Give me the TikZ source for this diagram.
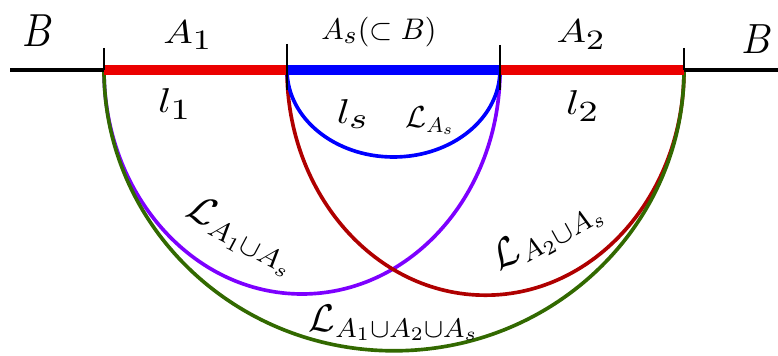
\RequirePackage{fix-cm}
\documentclass[tikz,border=0pt]{standalone}
\DeclareMathSizes{10}{10}{8.5}{6}
\DeclareMathSizes{12}{12}{8.4}{6}
\definecolor{barred}{RGB}{235,0,0}
\definecolor{barblue}{RGB}{0,0,255}
\definecolor{arcpurple}{RGB}{125,0,255}
\definecolor{arcred}{RGB}{175,0,0}
\definecolor{arcgreen}{RGB}{50,105,0}
\begin{document}
\begin{tikzpicture}[
        line/.style={line width=3.5pt},
        bar/.style={line width=7pt},
        tickmark/.style={line width=1.3pt},
        arc/.style={line width=2.6pt},
        lab/.style={inner sep=0pt, font=\fontsize{10}{12}\selectfont},
        geo/.style={inner sep=0pt, font=\fontsize{12}{14}\selectfont}
    ]
        \useasboundingbox (0,-7.15) rectangle (19.45,1.75);

        % end points on the line
        \coordinate (e0) at (0.25,0);
        \coordinate (p1) at (2.6,0);
        \coordinate (p2) at (7.175,0);
        \coordinate (p3) at (12.5,0);
        \coordinate (p4) at (17.1,0);
        \coordinate (e1) at (19.45,0);

        % geodesics
        \draw[arc, arcpurple] (p1) arc[start angle=180, end angle=360, x radius=4.95, y radius=5.6];
        \draw[arc, arcred] (p2) arc[start angle=180, end angle=360, x radius=4.9625, y radius=5.63];
        \draw[arc, barblue] (p2) arc[start angle=180, end angle=360, x radius=2.6625, y radius=2.175];
        \draw[arc, arcgreen] (p1) arc[start angle=180, end angle=360, x radius=7.25, y radius=7.02];

        % the line and the regions
        \draw[line] (e0) -- (p1);
        \draw[bar, barred] (p1) -- (p2);
        \draw[bar, barblue] (p2) -- (p3);
        \draw[bar, barred] (p3) -- (p4);
        \draw[line] (p4) -- (e1);

        % ticks
        \draw[tickmark] ([yshift=0.55cm]p1) -- (p1);
        \draw[tickmark] ([yshift=0.65cm]p2) -- ([yshift=-0.5cm]p2);
        \draw[tickmark] ([yshift=0.63cm]p3) -- ([yshift=-0.5cm]p3);
        \draw[tickmark] ([yshift=0.55cm]p4) -- (p4);

        % region labels
        \node[lab, xscale=2.7, yscale=3.3] (bl) at (0.95,0.98) {$B$};
        \node[lab, xscale=2.7, yscale=3.0] (br) at (18.93,0.78) {$B$};
        \node[lab, xscale=2.8, yscale=2.35] (a1) at (4.7,0.87) {$A_1$};
        \node[lab, xscale=2.8, yscale=2.35] (a2) at (14.53,0.89) {$A_2$};
        \node[lab, scale=2.12] (as) at (9.475,0.95) {$A_s(\subset B)$};

        % lengths
        \node[lab, xscale=3.0, yscale=2.45] (l1) at (4.375,-0.85) {$l_1$};
        \node[lab, xscale=3.0, yscale=2.45] (ls) at (8.825,-1.1) {$l_s$};
        \node[lab, xscale=3.0, yscale=2.45] (l2) at (14.575,-0.9) {$l_2$};

        % geodesic labels
        \node[geo, scale=1.8] (las) at (10.75,-1.275) {$\mathcal{L}_{A_s}$};
        \node[geo, scale=2.35, rotate=-28] (la1s) at (6.05,-4.15) {$\mathcal{L}_{A_1\cup A_s}$};
        \node[geo, scale=2.35, rotate=29] (la2s) at (13.7,-4.125) {$\mathcal{L}_{A_2\cup A_s}$};
        \node[geo, scale=2.28] (lall) at (9.85,-6.325) {$\mathcal{L}_{A_1\cup A_2\cup A_s}$};

    \end{tikzpicture}
\end{document}
